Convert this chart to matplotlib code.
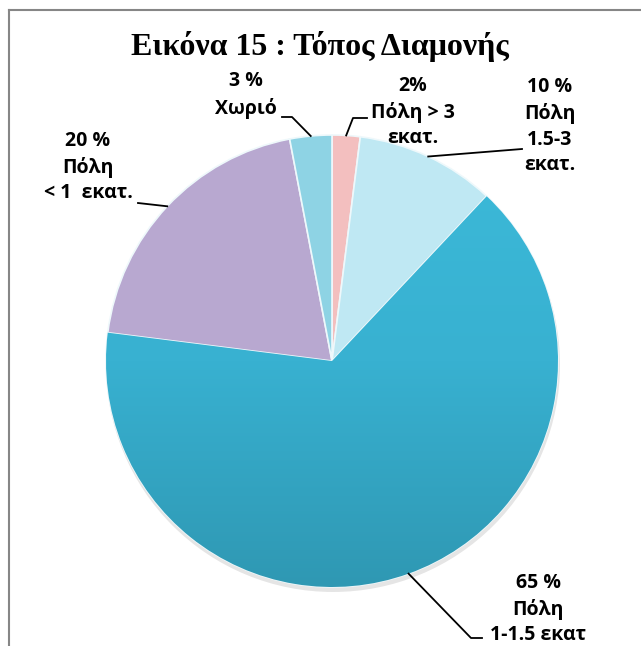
import numpy as np
import matplotlib
matplotlib.use("Agg")
import matplotlib.pyplot as plt
from matplotlib.lines import Line2D
from matplotlib.colors import LinearSegmentedColormap

# ---- data ----
categories = ["Πόλη > 3 εκατ.", "Πόλη 1.5-3 εκατ.", "Πόλη 1-1.5 εκατ", "Πόλη < 1 εκατ.", "Χωριό"]
values = [2, 10, 65, 20, 3]
label_texts = ["2%\nΠόλη > 3\nεκατ.", "10 %\nΠόλη\n1.5-3\nεκατ.", "65 %\nΠόλη\n1-1.5 εκατ",
               "20 %\nΠόλη\n< 1  εκατ.", "3 %\nΧωριό"]
colors = ["#F3BFBF", "#BFE8F3", "#38B1D1", "#B8A8D0", "#8ED3E4"]
title = "Εικόνα 15 : Τόπος Διαμονής"

W, H = 641, 646
fig = plt.figure(figsize=(W / 100, H / 100), dpi=100)
ax = fig.add_axes([0, 0, 1, 1])

cx, cy, r = 332, H - 361, 226

# shadow
shadow = plt.Circle((cx + 1, cy - 4), r + 1, color="#000000", alpha=0.10, zorder=0, lw=0)
ax.add_patch(shadow)

wedges, _ = ax.pie(values, colors=colors, startangle=90, counterclock=False,
                   center=(cx, cy), radius=r, frame=True,
                   wedgeprops=dict(edgecolor="#EEF8FB", linewidth=1.2))
ax.set_xlim(0, W)
ax.set_ylim(0, H)
ax.set_aspect("equal")
ax.axis("off")

for w in wedges:
    w.set_zorder(2)

# subtle vertical shading on the big slice
big = wedges[int(np.argmax(values))]
cmap = LinearSegmentedColormap.from_list("sh", ["#3CBAD9", "#38B1D1", "#2F98B3"])
grad = np.linspace(0, 1, 256).reshape(-1, 1)
im = ax.imshow(grad, cmap=cmap, extent=[cx - r, cx + r, cy - r, cy + r],
               origin="upper", aspect="auto", zorder=2.5)
im.set_clip_path(big)
ax.set_xlim(0, W)
ax.set_ylim(0, H)

# label settings: (text center in image px, leader path after wedge midpoint)
lab_pos = [(413, 112), (550, 126), (538, 609), (88, 167), (246, 95)]
leaders = [
    [(353, 118), (367, 118)],
    [(522, 149)],
    [(471, 638), (482, 638)],
    [(138, 203)],
    [(292, 117), (282, 117)],
]
font_lab = dict(family=["Open Sans", "DejaVu Sans"], fontweight="bold", fontsize=14)

for w, txt, pos, path in zip(wedges, label_texts, lab_pos, leaders):
    ang = np.deg2rad((w.theta1 + w.theta2) / 2)
    x0 = cx + r * np.cos(ang)
    y0 = cy + r * np.sin(ang)
    xs = [x0] + [p[0] for p in path]
    ys = [y0] + [H - p[1] for p in path]
    ax.plot(xs, ys, color="black", lw=1.3, zorder=3)
    ax.text(pos[0], H - pos[1], txt, ha="center", va="center", linespacing=1.38,
            zorder=4, **font_lab)

ax.text(320, H - 46, title, ha="center", va="center",
        family=["Liberation Serif", "DejaVu Serif"], fontweight="bold", fontsize=23)

# frame
fig.add_artist(Line2D([8.5 / W, 8.5 / W], [0, 1 - 10 / H], transform=fig.transFigure,
                      color="#868686", lw=1.5))
fig.add_artist(Line2D([8.5 / W, 1], [1 - 10 / H, 1 - 10 / H], transform=fig.transFigure,
                      color="#868686", lw=1.5))

fig.savefig("out.png", dpi=100)
